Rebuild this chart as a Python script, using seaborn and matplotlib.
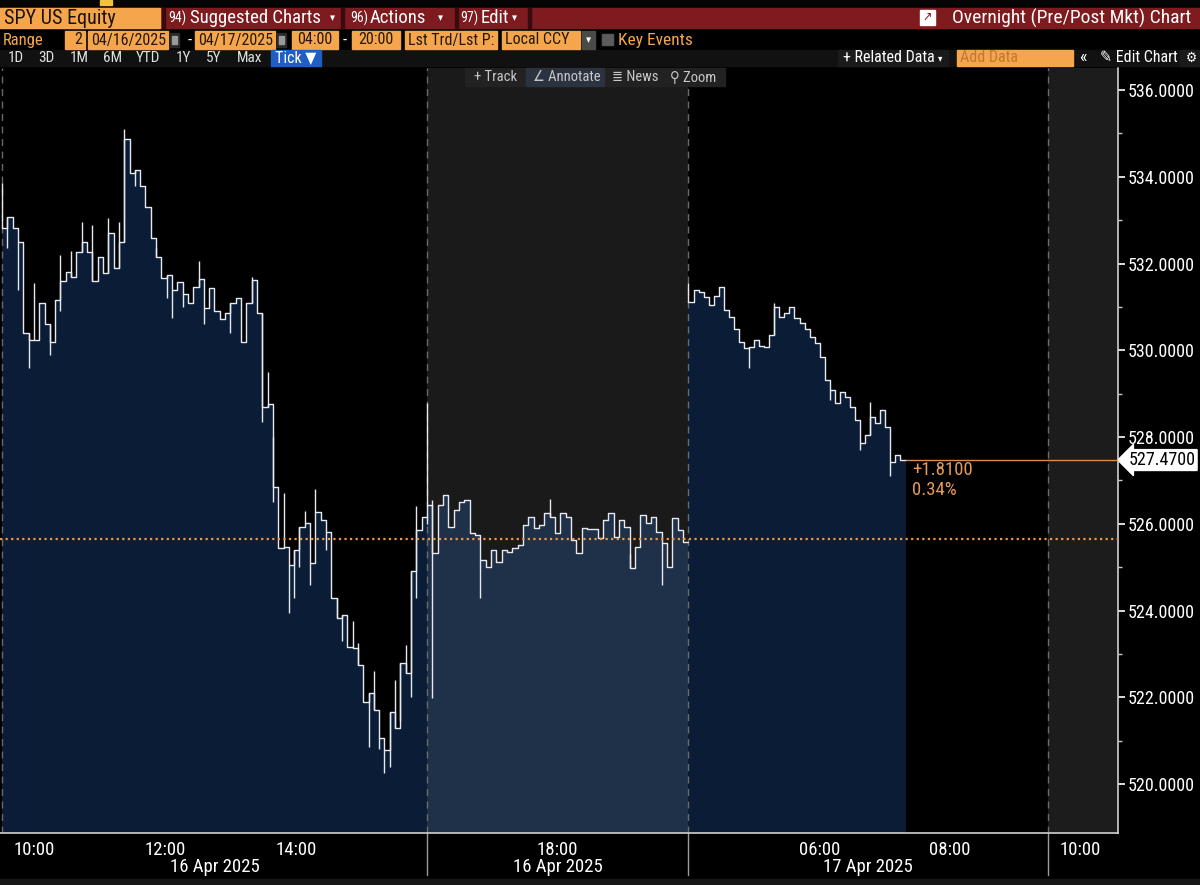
import numpy as np
import matplotlib
matplotlib.use("Agg")
import matplotlib.pyplot as plt
import matplotlib.transforms as mtransforms
from matplotlib import font_manager
from matplotlib.patches import Rectangle
import seaborn as sns

# --- data (session hours: 0 = 09:30 16 Apr, 6.5 = 16:00, 10.5 = 20:00 -> 04:00 17 Apr, 16 = 09:30) ---
reg_close = [532.82, 533.07, 532.82, 532.50, 530.40, 530.24, 530.24, 531.10, 530.60, 530.20,
             531.16, 531.60, 531.80, 531.70, 532.27, 532.50, 532.27, 531.60, 532.15, 531.78,
             532.70, 531.90, 532.50, 534.87, 534.10, 534.15, 533.80, 533.30, 532.60, 532.15,
             531.67, 531.74, 531.40, 531.58, 531.30, 531.10, 531.46, 531.64, 530.98, 531.44,
             530.90, 530.72, 530.86, 531.09, 531.20, 530.20, 531.10, 531.62, 530.86, 528.70,
             528.76, 526.85, 525.45, 525.47, 525.05, 525.40, 525.93, 526.02, 525.10, 526.27,
             526.09, 525.80, 524.30, 523.83, 523.90, 523.17, 523.14, 522.75, 521.90, 522.10,
             521.70, 521.06, 520.79, 521.66, 521.30, 522.80, 522.56, 524.90, 525.86, 526.16]
reg_wicks = [(0, 532.82, 533.86), (1, 532.36, 533.07), (3, 531.40, 532.50), (5, 529.60, 530.40),
             (6, 530.24, 531.55), (9, 529.90, 530.60), (11, 530.90, 532.20), (13, 531.70, 532.30),
             (15, 532.27, 532.95), (17, 531.60, 532.90), (20, 531.78, 533.05), (22, 531.90, 532.95),
             (23, 532.50, 535.10), (25, 533.80, 534.15), (29, 532.15, 532.35), (31, 531.20, 531.74),
             (32, 530.75, 531.40), (34, 531.00, 531.30), (37, 531.46, 532.05), (38, 530.60, 530.98),
             (43, 530.40, 531.09), (47, 531.10, 531.70), (49, 528.35, 530.86), (50, 528.70, 529.50),
             (51, 526.50, 528.00), (53, 525.45, 526.70), (54, 523.95, 525.05), (55, 524.30, 525.40),
             (56, 525.00, 525.93), (57, 526.02, 526.30), (58, 524.60, 525.10), (59, 526.27, 526.80),
             (61, 525.40, 525.80), (63, 523.83, 524.30), (64, 523.30, 523.90), (66, 523.14, 523.75),
             (67, 522.75, 523.25), (69, 520.85, 522.10), (70, 521.70, 522.60), (71, 520.80, 521.06),
             (72, 520.25, 520.79), (73, 520.40, 521.66), (74, 521.30, 522.40), (75, 521.45, 522.80),
             (76, 522.56, 523.20), (77, 522.00, 524.90), (78, 524.30, 526.40)]

post_close = [526.44, 525.33, 526.44, 526.67, 525.93, 526.32, 526.50, 526.55, 525.79, 525.74,
              525.17, 525.00, 525.40, 525.12, 525.40, 525.35, 525.44, 525.50, 525.97, 526.16,
              525.90, 525.97, 526.25, 526.16, 525.79, 526.25, 526.16, 525.63, 525.33, 525.90,
              525.88, 525.88, 525.67, 526.09, 526.25, 525.70, 526.09, 525.93, 524.98, 525.47,
              526.20, 526.02, 526.16, 525.80, 525.56, 525.00, 526.13, 525.86, 525.58]
post_wicks = [(0, 526.00, 528.78), (1, 521.99, 526.55), (10, 524.30, 525.17), (23, 526.16, 526.58),
              (38, 524.98, 525.30), (44, 524.60, 525.56)]

pre_close = [531.12, 531.40, 531.35, 531.23, 531.05, 531.25, 531.47, 530.93, 530.77, 530.50,
             530.19, 530.05, 530.08, 530.24, 530.10, 530.08, 530.35, 531.00, 530.77, 530.86,
             531.00, 530.74, 530.63, 530.49, 530.30, 530.17, 529.85, 529.32, 529.09, 528.79,
             529.04, 528.92, 528.70, 528.40, 527.86, 528.05, 528.46, 528.32, 528.63, 528.24,
             527.43, 527.59, 527.47]
pre_wicks = [(0, 531.12, 531.55), (12, 529.60, 530.08), (17, 530.35, 531.10), (28, 528.85, 529.09),
             (34, 527.70, 527.86), (36, 528.05, 528.80), (40, 527.10, 527.43)]

# session spans on the compressed time axis (hours)
reg_span = (0.0, 6.5)
post_span = (6.5, 10.5)
pre_span = (10.5, 13.82)

prev_close = 525.66
last_price = 527.47
change_txt = "+1.8100"
pct_txt = "0.34%"

tick_pos = [0.5, 2.5, 4.5, 8.5, 12.5, 14.5, 16.5]
tick_lab = ["10:00", "12:00", "14:00", "18:00", "06:00", "08:00", "10:00"]
minor_pos = [1.5, 3.5, 5.5, 7.5, 9.5, 11.5, 13.5, 15.5]
date_lab = [(3.25, "16 Apr 2025"), (8.5, "16 Apr 2025"), (13.25, "17 Apr 2025")]

# --- style ---
sns.set_style("dark")
installed = {f.name for f in font_manager.fontManager.ttflist}
main_font = "DejaVu Sans"
for cand in ["Liberation Sans Narrow", "Roboto Condensed", "Open Sans Condensed", "Roboto"]:
    if cand in installed:
        main_font = cand
        break
plt.rcParams["font.family"] = [main_font, "DejaVu Sans"]
plt.rcParams["font.stretch"] = "condensed"

W, H = 1200, 885
ORANGE = "#f5a64c"
RED = "#7e1b1f"
NAVY = "#0b1d36"
SLATE = "#1f3049"
LINE = "#e6eaf0"

fig = plt.figure(figsize=(12, 8.85), dpi=100, facecolor="black")
ax = fig.add_axes([0, 1 - 833 / H, 1118 / W, (833 - 68) / H])
ax.set_facecolor("black")


def seg_xy(span, vals):
    n = len(vals)
    xs = list(np.linspace(span[0], span[1], n + 1))
    ys = list(vals) + [vals[-1]]
    return xs, ys


ymin, ymax = 518.87, 536.51
ax.axvspan(post_span[0], post_span[1], color="#1a1a1a", zorder=0, lw=0)
ax.axvspan(16.0, 17.2, color="#1c1c1c", zorder=0, lw=0)

for span, vals, wicks, fc in [(reg_span, reg_close, reg_wicks, NAVY),
                              (post_span, post_close, post_wicks, SLATE),
                              (pre_span, pre_close, pre_wicks, NAVY)]:
    xs, ys = seg_xy(span, vals)
    ax.fill_between(xs, ys, ymin, step="post", color=fc, lw=0, zorder=1)
    sns.lineplot(x=xs, y=ys, drawstyle="steps-post", color=LINE, lw=1.0,
                 ax=ax, sort=False, estimator=None, zorder=3)
    wx = [xs[i] for i, lo, hi in wicks]
    ax.vlines(wx, [lo for i, lo, hi in wicks], [hi for i, lo, hi in wicks],
              color=LINE, lw=1.0, zorder=3)

for xv in [0.0, 6.5, 10.5, 16.0]:
    ax.axvline(xv, color="#6a6a6a", lw=1, ls=(0, (5, 4)), zorder=2)

ax.axhline(prev_close, color="#f0963c", lw=1.6, ls=(0, (1, 1.5)), zorder=4)
ax.plot([pre_span[1], 17.2], [last_price, last_price], color="#d98c4c", lw=1, zorder=4)
ax.text(pre_span[1] + 0.1, last_price - 0.24, change_txt, color="#e49a58", fontsize=13.5, va="center")
ax.text(pre_span[1] + 0.1, last_price - 0.70, pct_txt, color="#e49a58", fontsize=13.5, va="center")

ax.set_xlim(-0.031, 17.07)
ax.set_ylim(ymin, ymax)
ax.grid(False)
ax.set_xlabel("")
ax.set_ylabel("")

# right price axis
ax.yaxis.tick_right()
ax.set_yticks(np.arange(520, 537, 2))
ax.set_yticks(np.arange(521, 537, 2), minor=True)
ax.set_yticklabels([f"{v:.4f}" for v in np.arange(520, 537, 2)])
ax.tick_params(axis="y", which="major", colors="white", labelcolor="white", labelsize=13,
               length=5, width=1.2, direction="out", pad=2, right=True, left=False)
ax.tick_params(axis="y", which="minor", colors="#cccccc", length=3, width=1, right=True, left=False)

# time axis
ax.set_xticks(tick_pos)
ax.set_xticklabels(tick_lab)
ax.set_xticks(minor_pos, minor=True)
ax.tick_params(axis="x", which="major", colors="white", labelcolor="white", labelsize=13.5,
               length=0, pad=6)
ax.tick_params(axis="x", which="minor", colors="#bbbbbb", length=4, width=1)

trans = mtransforms.blended_transform_factory(ax.transData, ax.transAxes)
for xd, lab in date_lab:
    ax.text(xd, -0.044, lab, transform=trans, ha="center", va="center", color="white",
            fontsize=13.5, clip_on=False)
for xv in [6.5, 10.5, 16.0]:
    ax.plot([xv, xv], [0, -0.055], transform=trans, color="#9a9a9a", lw=1, clip_on=False)

for side in ["top", "left"]:
    ax.spines[side].set_visible(False)
ax.spines["right"].set_color("#d0d0d0")
ax.spines["bottom"].set_color("#d0d0d0")
ax.spines["right"].set_linewidth(1.2)
ax.spines["bottom"].set_linewidth(1.2)

# last price box
ytrans = mtransforms.blended_transform_factory(ax.transAxes, ax.transData)
ax.text(1.0095, last_price, f"{last_price:.4f}", transform=ytrans, color="black", fontsize=13,
        va="center", ha="left", clip_on=False,
        bbox=dict(boxstyle="larrow,pad=0.08", fc="white", ec="white"))


# --- terminal header ---
def box(x0, y0, w, h, color, z=0):
    fig.patches.append(Rectangle((x0 / W, 1 - (y0 + h) / H), w / W, h / H,
                                 transform=fig.transFigure, color=color, zorder=z))


def txt(x, y, s, color="white", size=11, ha="left", **kw):
    fig.text(x / W, 1 - y / H, s, color=color, fontsize=size, ha=ha, va="center", **kw)


# row 0 (cut off)
box(0, 0, W, 7, "#050505")
box(100, 0, 12, 5, "#f0c040")

# row 1: red title bar
box(0, 8, W, 20, RED)
box(0, 8, 160, 20, ORANGE, 1)
txt(4, 18, "SPY US Equity", color="#1c1208", size=14.5)
for xs_ in [162, 341, 455, 528]:
    box(xs_, 8, 3, 20, "#3a0b0d", 1)
txt(168, 18, "94)", size=10)
txt(190, 18, "Suggested Charts", size=13.5)
txt(332, 18, "\u25be", size=8, ha="center")
txt(350, 18, "96)", size=10)
txt(370, 18, "Actions", size=13.5)
txt(440, 18, "\u25be", size=8, ha="center")
txt(460, 18, "97)", size=10)
txt(481, 18, "Edit", size=13.5)
txt(514, 18, "\u25be", size=8, ha="center")
box(920, 10, 15, 15, "white", 1)
txt(927.5, 17.5, "\u2197", color=RED, size=9, ha="center", zorder=2)
txt(1191, 18, "Overnight (Pre/Post Mkt) Chart", size=14, ha="right")

# row 2: range inputs
txt(3, 40, "Range", color=ORANGE, size=12)
inputs = [(65, 20, "2", "right"), (88, 80, "04/16/2025", "left"), (195, 80, "04/17/2025", "left"),
          (292, 46, "04:00", "center"), (352, 48, "20:00", "center"),
          (405, 92, "Lst Trd/Lst P:", "left"), (502, 78, "Local CCY", "left")]
for x0, w, s, al in inputs:
    box(x0, 31, w, 18, ORANGE, 1)
    tx = x0 + 3 if al == "left" else (x0 + w - 3 if al == "right" else x0 + w / 2)
    txt(tx, 40, s, color="#24180a", size=11.5, ha=al, zorder=2)
for x0 in [170, 277]:
    box(x0, 33, 9, 14, "#2a2a2a", 1)
    box(x0 + 2, 36, 5, 8, "#9a9a9a", 2)
txt(188, 40, "-", size=12)
txt(343, 40, "-", size=12)
box(582, 31, 13, 18, "#4a4a4a", 1)
txt(588.5, 40, "\u25be", size=8, ha="center", zorder=2)
box(602, 34, 11, 11, "#5a5a5a", 1)
txt(618, 40, "Key Events", color=ORANGE, size=12.5)

# row 3: period buttons
box(0, 50, W, 16, "#111111")
for xp, s in [(8, "1D"), (38, "3D"), (70, "1M"), (103, "6M"), (136, "YTD"), (176, "1Y"),
              (206, "5Y"), (237, "Max")]:
    txt(xp, 58, s, color="#e0e0e0", size=11)
box(271, 50, 50, 16, "#1f5fc4", 1)
txt(275, 58, "Tick \u25bc", size=11.5, zorder=2)
box(838, 50, 110, 16, "#1a1a1a", 1)
txt(843, 58, "+ Related Data", size=11.5, zorder=2)
txt(940, 58, "\u25be", size=7, ha="center", zorder=2)
box(957, 50, 116, 16, ORANGE, 1)
txt(960, 58, "Add Data", color="#c07a2c", size=11.5, zorder=2)
txt(1079, 57, "\u00ab", size=13)
txt(1100, 58, "\u270e Edit Chart", size=11.5)
box(1180, 50, 20, 16, "#1a1a1a", 1)
txt(1191, 58, "\u2699", size=10, ha="center", zorder=2)

# chart toolbar
box(465, 68, 260, 18, "#222222", 1)
box(526, 68, 78, 18, "#2c3340", 1)
txt(474, 77, "+ Track", color="#c8c8c8", size=10.5, zorder=2)
txt(533, 77, "\u2220 Annotate", color="#c8c8c8", size=10.5, zorder=2)
txt(612, 77, "\u2263 News", color="#c8c8c8", size=10.5, zorder=2)
txt(670, 77, "\u26b2 Zoom", color="#c8c8c8", size=10.5, zorder=2)

# bottom strip
box(0, 879, W, 6, "#161616")

fig.savefig("out.png", dpi=100, facecolor="black")
